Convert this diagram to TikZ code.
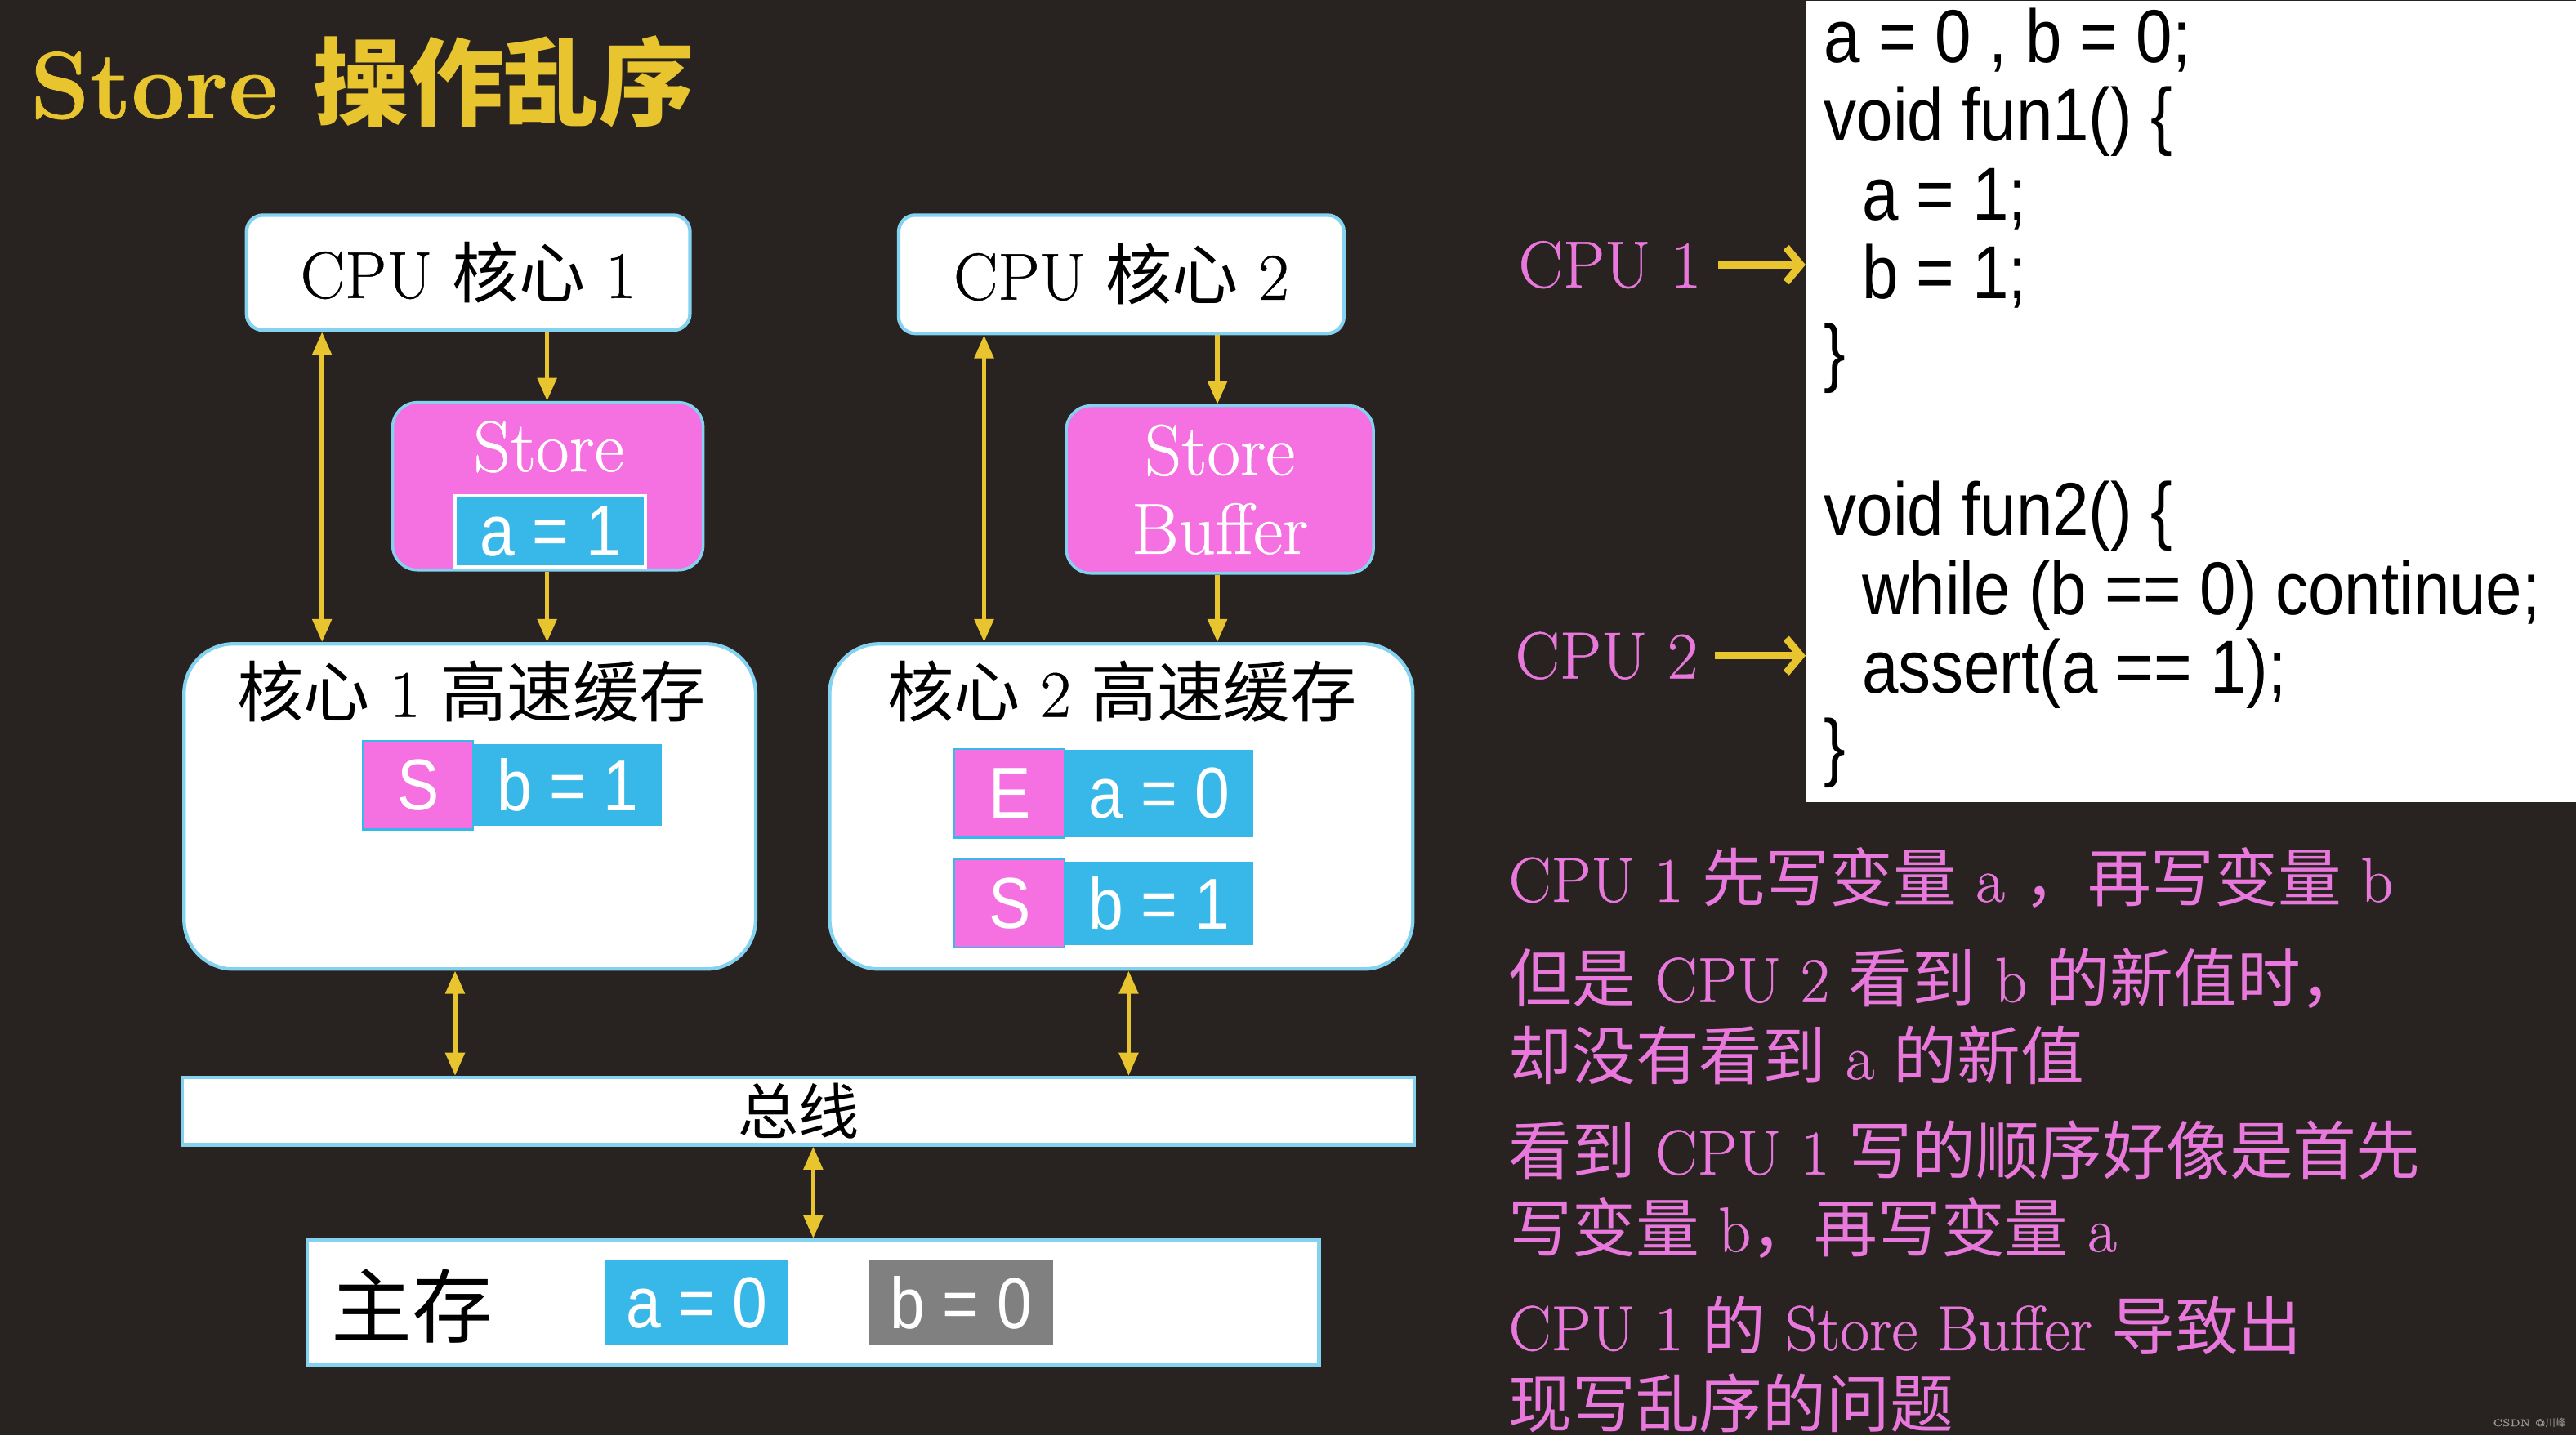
\documentclass[tikz,border=0pt]{standalone}
\usepackage{fontspec}
\usetikzlibrary{arrows.meta}
\setmainfont{Latin Modern Roman}[FakeBold=0.6]
\newfontfamily\cjk{Noto Sans CJK SC}
\newfontfamily\arialc[FakeStretch=0.87]{Liberation Sans}
\newcommand\zh[1]{{\cjk #1}}
\newcommand\fsTitle{\fontsize{33}{38}\selectfont}
\newcommand\fsBox{\fontsize{23}{27}\selectfont}
\newcommand\fsStore{\fontsize{25}{27.3}\selectfont}
\newcommand\fsCell{\arialc\fontsize{25}{28}\selectfont}
\newcommand\fsCode{\arialc\fontsize{26}{27.3}\selectfont}
\newcommand\fsPara{\fontsize{22}{26}\selectfont}
\newcommand\fsMem{\fontsize{28}{32}\selectfont}
\definecolor{bg}{RGB}{40,35,32}
\definecolor{ylw}{RGB}{232,196,46}
\definecolor{pnk}{RGB}{245,112,224}
\definecolor{txtpink}{RGB}{232,120,220}
\definecolor{cyn}{RGB}{56,184,233}
\definecolor{edge}{RGB}{130,210,240}
\definecolor{gry}{RGB}{128,128,128}
\begin{document}
\begin{tikzpicture}[x=0.02cm,y=-0.02cm,
  >={Triangle[length=8pt,width=6.5pt]},
  whitebox/.style={draw=edge,line width=1.2pt,fill=white,rounded corners=0.2cm,inner sep=0pt,text=black},
  cachebox/.style={draw=edge,line width=1.2pt,fill=white,rounded corners=0.6cm,inner sep=0pt},
  flatbox/.style={draw=edge,line width=1.2pt,fill=white,inner sep=0pt,text=black},
  storebox/.style={draw=edge,line width=1pt,fill=pnk,rounded corners=0.3cm,inner sep=0pt,text=white,font=\fsStore,align=center},
  statecell/.style={fill=pnk,draw=cyn,line width=0.6pt,inner sep=0pt,minimum width=1.34cm,minimum height=1.08cm,text=white,font=\fsCell},
  valcell/.style={fill=cyn,inner sep=0pt,minimum width=2.3cm,minimum height=1.0cm,text=white,font=\fsCell},
  conn/.style={draw=ylw,line width=1.6pt},
  lblarrow/.style={draw=ylw,line width=2.6pt,-{Straight Barb[length=5pt,width=12pt]}},
  codeline/.style={anchor=base west,inner sep=0pt,text=black,font=\fsCode},
  paraline/.style={anchor=base west,inner sep=0pt,text=txtpink,font=\fsPara},
]
\useasboundingbox (0,0) rectangle (1568,874);
\fill[bg] (0,0) rectangle (1568,874);

% title
\node[anchor=base west,inner sep=0pt,text=ylw,font=\fsTitle] (title) at (18,72) {\bfseries Store \zh{操作乱序}};

% CPU boxes
\node[whitebox,minimum width=5.4cm,minimum height=1.4cm,font=\fsBox] (cpu1) at (285,166) {CPU \zh{核心} 1};
\node[whitebox,minimum width=5.42cm,minimum height=1.44cm,font=\fsBox] (cpu2) at (682.5,167) {CPU \zh{核心} 2};

% store buffers
\node[storebox,minimum width=3.78cm,minimum height=2.04cm] (sb1) at (333.5,296) {};
\node[inner sep=0pt,text=white,font=\fsStore] (sb1t) at (334,272) {Store};
\node[fill=cyn,draw=white,line width=1.2pt,inner sep=0pt,minimum width=2.32cm,minimum height=0.86cm,text=white,font=\fsCell] (sb1a) at (335,323.5) {a = 1};
\node[storebox,minimum width=3.74cm,minimum height=2.04cm] (sb2) at (742.5,298) {Store\\Buffer};

% caches
\node[cachebox,minimum width=6.96cm,minimum height=3.96cm] (cache1) at (286,491) {};
\node[inner sep=0pt,font=\fsBox] (c1t) at (287,421) {\zh{核心} 1 \zh{高速缓存}};
\node[statecell] (c1s) at (254.5,478) {S};
\node[valcell] (c1v) at (345.5,478) {b = 1};

\node[cachebox,minimum width=7.1cm,minimum height=3.96cm] (cache2) at (682.5,491) {};
\node[inner sep=0pt,font=\fsBox] (c2t) at (683,421) {\zh{核心} 2 \zh{高速缓存}};
\node[statecell] (c2e) at (614.5,483) {E};
\node[valcell,minimum height=1.06cm] (c2a) at (705.5,483) {a = 0};
\node[statecell] (c2s) at (614.5,550) {S};
\node[valcell,minimum height=1.02cm] (c2b) at (705.5,550) {b = 1};

% bus and memory
\node[flatbox,minimum width=15cm,minimum height=0.82cm,font=\fontsize{21}{24}\selectfont] (bus) at (486,676.5) {\zh{总线}};
\node[flatbox,minimum width=12.32cm,minimum height=1.52cm] (mem) at (495,793) {};
\node[inner sep=0pt,font=\fsMem] (memt) at (251,795) {\zh{主存}};
\node[fill=cyn,inner sep=0pt,minimum width=2.24cm,minimum height=1.04cm,text=white,font=\fsCell] (ma) at (424,793) {a = 0};
\node[fill=gry,inner sep=0pt,minimum width=2.24cm,minimum height=1.04cm,text=white,font=\fsCell] (mb) at (585,793) {b = 0};

% connector x positions
\coordinate (xa) at (196,0);
\coordinate (xb) at (333,0);
\coordinate (xc) at (599,0);
\coordinate (xd) at (741,0);
\coordinate (xe) at (277,0);
\coordinate (xf) at (687,0);
\coordinate (xg) at (495,0);

\draw[conn,<->] (cpu1.south -| xa) -- (cache1.north -| xa);
\draw[conn,->] (cpu1.south -| xb) -- (sb1.north -| xb);
\draw[conn,->] (sb1.south -| xb) -- (cache1.north -| xb);
\draw[conn,<->] (cpu2.south -| xc) -- (cache2.north -| xc);
\draw[conn,->] (cpu2.south -| xd) -- (sb2.north -| xd);
\draw[conn,->] (sb2.south -| xd) -- (cache2.north -| xd);
\draw[conn,<->] (cache1.south -| xe) -- (bus.north -| xe);
\draw[conn,<->] (cache2.south -| xf) -- (bus.north -| xf);
\draw[conn,<->] (bus.south -| xg) -- (mem.north -| xg);

% code panel
\node[fill=white,inner sep=0pt,minimum width=9.38cm,minimum height=9.76cm,anchor=north west] (panel) at (1099,0) {};
\node[codeline] (k1) at (1110,38) {a = 0 , b = 0;};
\node[codeline] (k2) at (1110,86) {void fun1() \{};
\node[codeline] (k3) at (1133,134) {a = 1;};
\node[codeline] (k4) at (1133,182) {b = 1;};
\node[codeline] (k5) at (1110,230) {\}};
\node[codeline] (k6) at (1110,326) {void fun2() \{};
\node[codeline] (k7) at (1133,374) {while (b == 0) continue;};
\node[codeline] (k8) at (1133,422) {assert(a == 1);};
\node[codeline] (k9) at (1110,470) {\}};

% CPU labels
\node[anchor=base west,inner sep=0pt,text=txtpink,font=\fsBox] (l1) at (924,175) {CPU 1};
\node[anchor=base west,inner sep=0pt,text=txtpink,font=\fsBox] (l2) at (922,413) {CPU 2};
\draw[lblarrow] ([xshift=0.2cm]l1.east) -- (l1.east -| panel.west);
\draw[lblarrow] ([xshift=0.2cm]l2.east) -- (l2.east -| panel.west);

% explanation
\node[paraline] (p1) at (918,549) {CPU 1 \zh{先写变量} a \zh{，再写变量} b};
\node[paraline] (p2) at (918,610) {\zh{但是} CPU 2 \zh{看到} b \zh{的新值时，}};
\node[paraline] (p3) at (918,657) {\zh{却没有看到} a \zh{的新值}};
\node[paraline] (p4) at (918,715) {\zh{看到} CPU 1 \zh{写的顺序好像是首先}};
\node[paraline] (p5) at (918,762) {\zh{写变量} b\zh{，再写变量} a};
\node[paraline] (p6) at (918,822) {CPU 1 \zh{的} Store Buffer \zh{导致出}};
\node[paraline] (p7) at (918,869) {\zh{现写乱序的问题}};

\node[anchor=east,inner sep=0pt,text=gray!80,font=\fontsize{3.5}{4}\selectfont] (wm) at (1562,866) {CSDN @\zh{川峰}};
\end{tikzpicture}
\end{document}
